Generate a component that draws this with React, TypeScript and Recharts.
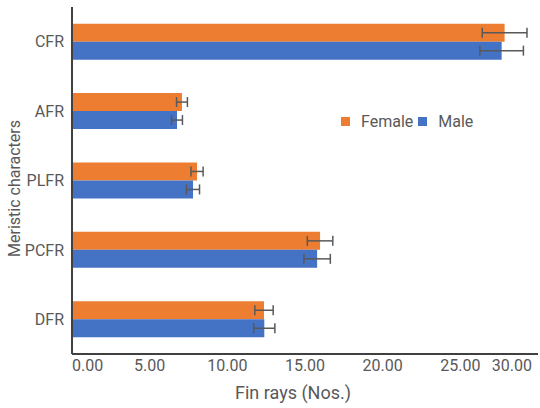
import { BarChart, Bar, XAxis, YAxis, Legend, ErrorBar } from "recharts";

// meristic counts per fin, mean ± SD
const characters = ["CFR", "AFR", "PLFR", "PCFR", "DFR"];
const femaleMean = [27.85, 7.08, 8.05, 15.97, 12.36];
const femaleSd = [1.44, 0.35, 0.39, 0.82, 0.59];
const maleMean = [27.66, 6.76, 7.79, 15.78, 12.38];
const maleSd = [1.4, 0.35, 0.42, 0.85, 0.68];
const xTicks = [0, 5, 10, 15, 20, 25, 30];

const data = characters.map((name, i) => ({
  name,
  female: femaleMean[i],
  femaleErr: femaleSd[i],
  male: maleMean[i],
  maleErr: maleSd[i],
}));

const FONT = "Roboto, 'Noto Sans', sans-serif";
const TEXT = "#595959";

function XTick({ x, y, payload, index }: any) {
  const last = xTicks.length - 1;
  const anchor = index === 0 ? "start" : index === last ? "end" : "middle";
  return (
    <text x={x} y={y} dy={15} textAnchor={anchor} fill={TEXT} fontSize={16} fontFamily={FONT}>
      {Number(payload.value).toFixed(2)}
    </text>
  );
}

function LegendContent({ payload }: any) {
  return (
    <div style={{ display: "flex", alignItems: "center", fontFamily: FONT, fontSize: 16, color: TEXT }}>
      {payload.map((p: any) => (
        <div key={p.value} style={{ display: "flex", alignItems: "center", marginRight: 5 }}>
          <span style={{ width: 9, height: 9, background: p.color, marginRight: 11, display: "inline-block" }} />
          <span>{p.value}</span>
        </div>
      ))}
    </div>
  );
}

export default function App() {
  return (
    <div style={{ position: "absolute", left: 0, top: 0, background: "#fff" }}>
      <BarChart
        width={540}
        height={408}
        data={data}
        layout="vertical"
        margin={{ top: 7, right: 2, bottom: 0, left: 0 }}
        barCategoryGap="24%"
        barGap={0}
      >
        <XAxis
          type="number"
          domain={[0, 30]}
          ticks={xTicks}
          height={54}
          tickLine={false}
          tickSize={0}
          tick={<XTick />}
          axisLine={{ stroke: "#404040", strokeWidth: 2 }}
          label={{
            value: "Fin rays (Nos.)",
            position: "insideBottom",
            offset: 9,
            dx: -12,
            fill: TEXT,
            fontSize: 18,
            fontFamily: FONT,
          }}
        />
        <YAxis
          type="category"
          dataKey="name"
          width={72}
          tickLine={false}
          tickSize={0}
          tickMargin={8}
          axisLine={{ stroke: "#404040", strokeWidth: 2 }}
          tick={{ fill: TEXT, fontSize: 16, fontFamily: FONT }}
          label={{
            value: "Meristic characters",
            angle: -90,
            position: "insideLeft",
            offset: 14,
            dy: 8,
            fill: TEXT,
            fontSize: 16,
            fontFamily: FONT,
            style: { textAnchor: "middle" },
          }}
        />
        {/* middle/center legend so it reserves no room from the plot */}
        <Legend
          layout="vertical"
          align="center"
          verticalAlign="middle"
          content={<LegendContent />}
          wrapperStyle={{ position: "absolute", left: 341, top: 112, width: "auto" }}
        />
        <Bar dataKey="female" name="Female" fill="#ED7D31" isAnimationActive={false}>
          <ErrorBar dataKey="femaleErr" direction="x" width={5} stroke="#595959" strokeWidth={1.5} />
        </Bar>
        <Bar dataKey="male" name="Male" fill="#4472C4" isAnimationActive={false}>
          <ErrorBar dataKey="maleErr" direction="x" width={5} stroke="#595959" strokeWidth={1.5} />
        </Bar>
      </BarChart>
    </div>
  );
}
